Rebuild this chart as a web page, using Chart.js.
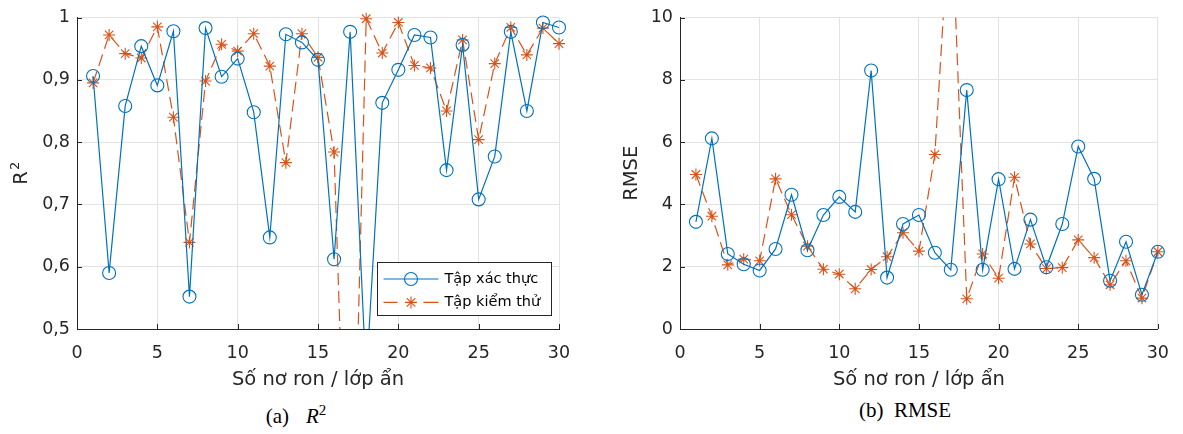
<!DOCTYPE html>
<html lang="vi">
<head>
<meta charset="utf-8">
<script src="https://cdn.jsdelivr.net/npm/chart.js@4.4.1/dist/chart.umd.min.js"></script>
<style>
  html, body { margin: 0; padding: 0; background: #fff; }
  #wrap { position: relative; width: 1183px; height: 434px; overflow: hidden; }
  .box { position: absolute; top: 0; height: 395px; }
  #boxR2 { left: 0; width: 590px; }
  #boxRmse { left: 595px; width: 588px; }
  .cap { position: absolute; top: 396px; width: 200px; text-align: center; line-height: 28px;
         font-family: "Liberation Serif", "Times New Roman", serif; font-size: 21px; color: #000; }
</style>
</head>
<body>
<div id="wrap">
  <div class="box" id="boxR2"><canvas id="r2Chart" width="590" height="395"></canvas></div>
  <div class="box" id="boxRmse"><canvas id="rmseChart" width="588" height="395"></canvas></div>
  <div class="cap" style="left:196px">(a)<i style="margin-left:17px">R</i><sup style="font-size:15px">2</sup></div>
  <div class="cap" style="left:805px">(b)&nbsp; RMSE</div>
</div>
<script>
// Số nơ ron trên lớp ẩn
const neurons = [1, 2, 3, 4, 5, 6, 7, 8, 9, 10, 11, 12, 13, 14, 15,
  16, 17, 18, 19, 20, 21, 22, 23, 24, 25, 26, 27, 28, 29, 30];

// R2 - tập xác thực / tập kiểm thử
const r2Val = [0.906, 0.590, 0.858, 0.954, 0.891, 0.978, 0.552, 0.983, 0.905, 0.934,
  0.848, 0.647, 0.973, 0.960, 0.932, 0.612, 0.977, 0.42, 0.863, 0.916,
  0.972, 0.968, 0.755, 0.956, 0.708, 0.777, 0.977, 0.850, 0.992, 0.984];
const r2Test = [0.895, 0.972, 0.942, 0.935, 0.985, 0.840, 0.639, 0.898, 0.957, 0.946,
  0.974, 0.922, 0.767, 0.974, 0.936, 0.784, 0.0, 0.998, 0.943, 0.992,
  0.923, 0.919, 0.850, 0.964, 0.804, 0.926, 0.984, 0.940, 0.983, 0.958];

// RMSE - tập xác thực / tập kiểm thử
const rmseVal = [3.44, 6.12, 2.41, 2.08, 1.88, 2.57, 4.31, 2.53, 3.66, 4.24,
  3.76, 8.30, 1.65, 3.37, 3.66, 2.45, 1.90, 7.67, 1.90, 4.81,
  1.93, 3.51, 1.98, 3.37, 5.86, 4.82, 1.55, 2.80, 1.10, 2.48];
const rmseTest = [4.96, 3.62, 2.06, 2.24, 2.19, 4.82, 3.67, 2.66, 1.92, 1.76,
  1.29, 1.91, 2.32, 3.09, 2.50, 5.60, 14.0, 0.97, 2.41, 1.63,
  4.87, 2.73, 1.94, 1.97, 2.86, 2.29, 1.42, 2.19, 0.99, 2.48];

// Nhãn trục
const xTickLabels = ["0", "5", "10", "15", "20", "25", "30"];
const r2TickLabels = ["0,5", "0,6", "0,7", "0,8", "0,9", "1"];
const rmseTickLabels = ["0", "2", "4", "6", "8", "10"];
const seriesNames = ["Tập xác thực", "Tập kiểm thử"];

const AXIS = "#262626";
const GRID = "#e3e3e3";
Chart.defaults.font.family = '"DejaVu Sans", sans-serif';
Chart.defaults.color = AXIS;

// vạch chia hướng vào trong (kiểu MATLAB)
const innerTicks = {
  id: "innerTicks",
  beforeDatasetsDraw(chart) {
    const { ctx, chartArea: a, scales } = chart;
    ctx.save();
    ctx.strokeStyle = AXIS;
    ctx.lineWidth = 1;
    ctx.beginPath();
    scales.x.ticks.forEach((t) => {
      const px = Math.round(scales.x.getPixelForValue(t.value)) + 0.5;
      ctx.moveTo(px, a.bottom);
      ctx.lineTo(px, a.bottom - 5);
    });
    scales.y.ticks.forEach((t) => {
      const py = Math.round(scales.y.getPixelForValue(t.value)) + 0.5;
      ctx.moveTo(a.left, py);
      ctx.lineTo(a.left + 5, py);
    });
    ctx.stroke();
    ctx.restore();
  },
};

// tiêu đề trục y "R^2" có chỉ số trên
const r2Title = {
  id: "r2Title",
  afterDraw(chart) {
    const { ctx, chartArea: a } = chart;
    ctx.save();
    ctx.translate(22, (a.top + a.bottom) / 2);
    ctx.rotate(-Math.PI / 2);
    ctx.fillStyle = AXIS;
    ctx.textBaseline = "middle";
    ctx.font = '19.5px "DejaVu Sans"';
    const wR = ctx.measureText("R").width;
    ctx.font = '13px "DejaVu Sans"';
    const w2 = ctx.measureText("2").width;
    const x0 = -(wR + w2 + 1) / 2;
    ctx.font = '19.5px "DejaVu Sans"';
    ctx.fillText("R", x0, 0);
    ctx.font = '13px "DejaVu Sans"';
    ctx.fillText("2", x0 + wR + 1, -6);
    ctx.restore();
  },
};

// chú giải nằm trong vùng vẽ, góc dưới phải
const insideLegend = {
  id: "insideLegend",
  afterDraw(chart) {
    const { ctx, chartArea: a } = chart;
    const w = 174, h = 53;
    const left = Math.round(a.right - 8 - w) + 0.5;
    const top = Math.round(a.bottom - 14 - h) + 0.5;
    ctx.save();
    ctx.fillStyle = "#fff";
    ctx.fillRect(left, top, w, h);
    ctx.strokeStyle = AXIS;
    ctx.lineWidth = 1;
    ctx.strokeRect(left, top, w, h);
    chart.data.datasets.forEach((ds, i) => {
      const cy = top + 16.5 + i * 23.4;
      ctx.strokeStyle = ds.borderColor;
      ctx.lineWidth = ds.borderWidth;
      ctx.beginPath();
      if (ds.borderDash) {
        ctx.moveTo(left + 6, cy); ctx.lineTo(left + 20, cy);
        ctx.moveTo(left + 46, cy); ctx.lineTo(left + 61, cy);
      } else {
        ctx.moveTo(left + 6, cy); ctx.lineTo(left + 61, cy);
      }
      ctx.stroke();
      ctx.fillStyle = "rgba(0,0,0,0)";
      ctx.lineWidth = ds.pointBorderWidth;
      Chart.helpers.drawPoint(ctx, { pointStyle: ds.pointStyle, radius: ds.pointRadius, rotation: 0, borderWidth: ds.pointBorderWidth }, left + 33.5, cy);
      ctx.fillStyle = "#000";
      ctx.font = '14.5px "DejaVu Sans"';
      ctx.textBaseline = "middle";
      ctx.fillText(ds.label, left + 67, cy);
    });
    ctx.restore();
  },
};

function series(label, values, color, dashed, clip) {
  return {
    label: label,
    data: neurons.map((n, i) => ({ x: n, y: values[i] })),
    borderColor: color,
    backgroundColor: "rgba(0,0,0,0)",
    borderWidth: 1.2,
    borderDash: dashed ? [12, 6] : undefined,
    pointStyle: dashed ? "star" : "circle",
    pointRadius: dashed ? 6 : 6.5,
    pointBorderWidth: 1.1,
    pointBorderColor: color,
    pointBackgroundColor: "rgba(0,0,0,0)",
    tension: 0,
    clip: clip,
  };
}

function axes(yMin, yMax, yStep, yLabels, yTitle, yWidth, yTitlePad) {
  return {
    x: {
      type: "linear",
      min: 0,
      max: 30,
      ticks: {
        stepSize: 5, padding: 14, maxRotation: 0, autoSkip: false,
        font: { size: 17.5 }, color: AXIS,
        callback: (v, i) => xTickLabels[i],
      },
      grid: { color: GRID, drawTicks: false },
      border: { color: AXIS },
      title: { display: true, text: "Số nơ ron / lớp ẩn", color: AXIS, font: { size: 19.5 }, padding: { top: 0, bottom: 3 } },
      afterFit: (s) => { s.height = 66; },
    },
    y: {
      min: yMin,
      max: yMax,
      ticks: {
        stepSize: yStep, padding: 7, autoSkip: false,
        font: { size: 17.5 }, color: AXIS,
        callback: (v, i) => yLabels[i],
      },
      grid: { color: GRID, drawTicks: false },
      border: { color: AXIS },
      title: { display: yTitle !== "", text: yTitle, color: AXIS, font: { size: 19.5 }, padding: { top: yTitlePad, bottom: 0 } },
      afterFit: (s) => { s.width = yWidth; },
    },
  };
}

// Biểu đồ R2
new Chart(document.getElementById("r2Chart"), {
  type: "line",
  data: {
    datasets: [
      series(seriesNames[0], r2Val, "#0072BD", false, { left: 10, right: 10, top: 10, bottom: 0 }),
      series(seriesNames[1], r2Test, "#D95319", true, { left: 10, right: 10, top: 10, bottom: 0 }),
    ],
  },
  options: {
    responsive: false,
    animation: false,
    layout: { padding: { left: 0, right: 31, top: 16, bottom: 0 } },
    plugins: { legend: { display: false }, tooltip: { enabled: false } },
    scales: axes(0.5, 1, 0.1, r2TickLabels, "", 77, 10),
  },
  plugins: [innerTicks, r2Title, insideLegend],
});

// Biểu đồ RMSE
new Chart(document.getElementById("rmseChart"), {
  type: "line",
  data: {
    datasets: [
      series(seriesNames[0], rmseVal, "#0072BD", false, { left: 10, right: 10, top: 0, bottom: 10 }),
      series(seriesNames[1], rmseTest, "#D95319", true, { left: 10, right: 10, top: 0, bottom: 10 }),
    ],
  },
  options: {
    responsive: false,
    animation: false,
    layout: { padding: { left: 0, right: 20, top: 16, bottom: 0 } },
    plugins: { legend: { display: false }, tooltip: { enabled: false } },
    scales: axes(0, 10, 2, rmseTickLabels, "RMSE", 85, 25),
  },
  plugins: [innerTicks],
});
</script>
</body>
</html>
